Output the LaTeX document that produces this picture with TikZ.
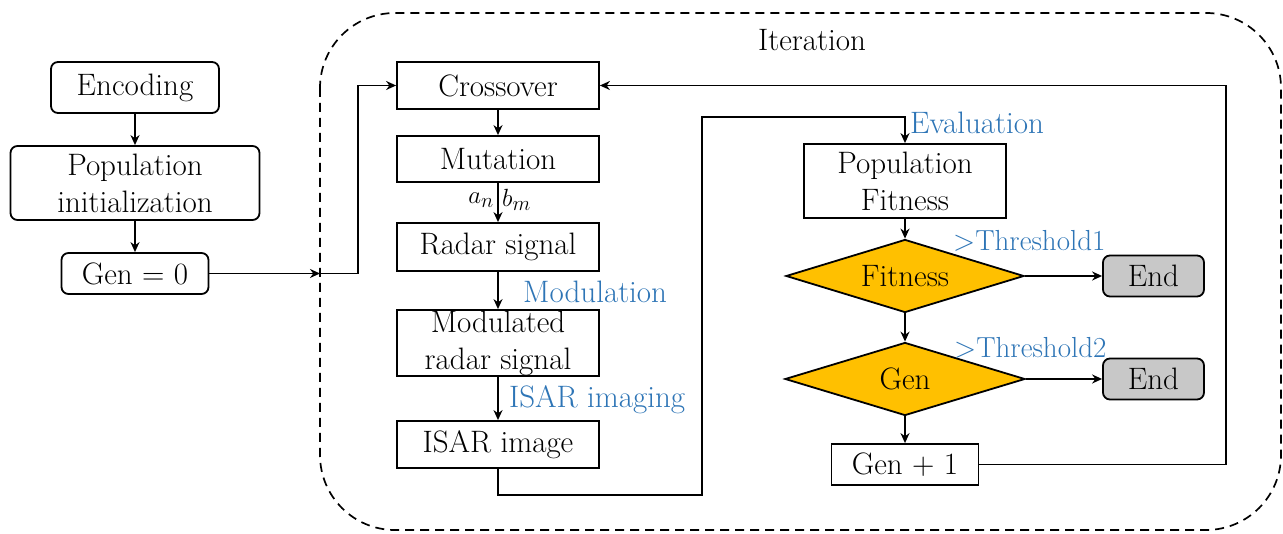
\documentclass[tikz,border=0pt]{standalone}
\usetikzlibrary{shapes.geometric,arrows.meta}
\definecolor{lblue}{HTML}{2E75B6}
\definecolor{dgold}{HTML}{FFC000}
\definecolor{egray}{HTML}{C8C8C8}
\begin{document}
\begin{tikzpicture}[x=1pt,y=-1pt,
  every node/.style={font=\fontsize{31}{37}\selectfont, inner sep=0pt},
  rbox/.style={draw, line width=1.8pt, rounded corners=7pt, align=center},
  sbox/.style={draw, line width=1.8pt, align=center},
  dia/.style={draw, line width=1.8pt, diamond, fill=dgold, aspect=3.27},
  endbox/.style={draw, line width=1.8pt, rounded corners=7pt, fill=egray, minimum width=101pt, minimum height=41pt},
  lab/.style={text=lblue},
  arr/.style={line width=1.8pt, -{Stealth[length=10pt,width=9pt]}}]
\useasboundingbox (0,0) rectangle (1283,534);
% iteration frame
\draw[line width=1.7pt, dash pattern=on 9pt off 6pt, rounded corners=75pt] (320,13) rectangle (1281,530);
\node (iter) at (812,40) {Iteration};
% left column
\node[rbox, minimum width=168pt, minimum height=51pt] (enc) at (135,87.5) {Encoding};
\node[rbox, minimum width=249pt, minimum height=74pt] (pop) at (135,183) {Population\\initialization};
\node[rbox, minimum width=147pt, minimum height=41pt] (gen0) at (135,273.5) {Gen = 0};
% middle column
\node[sbox, minimum width=202pt, minimum height=47pt] (cross) at (498,85.5) {Crossover};
\node[sbox, minimum width=202pt, minimum height=46pt] (mut) at (498,159) {Mutation};
\node[sbox, minimum width=202pt, minimum height=48pt] (radar) at (498,247) {Radar signal};
\node[sbox, minimum width=202pt, minimum height=66pt] (mod) at (498,343) {Modulated\\radar signal};
\node[sbox, minimum width=202pt, minimum height=47pt] (isar) at (498,444.5) {ISAR image};
% right column
\node[sbox, minimum width=202pt, minimum height=74pt] (pfit) at (905,181) {Population\\Fitness};
\node[dia, minimum width=238pt, minimum height=73pt] (fit) at (905,276) {Fitness};
\node[dia, minimum width=240pt, minimum height=73pt] (gend) at (905,379) {Gen};
\node[sbox, minimum width=147pt, minimum height=41pt] (gen1) at (905,464.5) {Gen + 1};
\node[endbox] (end1) at (1153.5,276) {End};
\node[endbox] (end2) at (1153.5,379) {End};
% labels
\node[anchor=east] (an) at (494,200) {$a_n$};
\node[anchor=west] (bm) at (502,200) {$b_m$};
\node[lab, anchor=west] (lmod) at (523,292) {Modulation};
\node[lab, anchor=west] (lisar) at (509,400) {ISAR imaging};
\node[lab, anchor=west] (leval) at (910,123) {Evaluation};
\node[lab, anchor=west, font=\fontsize{29}{35}\selectfont] (lth1) at (953,241) {>Threshold1};
\node[lab, anchor=west, font=\fontsize{29}{35}\selectfont] (lth2) at (954,348) {>Threshold2};
% coordinates
\coordinate (j0) at (320,273.5);
\coordinate (j1) at (358,273.5);
\coordinate (j2) at (498,495);
\coordinate (j3) at (702,495);
\coordinate (j4) at (702,117);
\coordinate (j5) at (1226,464.5);
\coordinate (j6) at (1226,85.5);
% connectors
\draw[arr] (enc) -- (pop);
\draw[arr] (pop) -- (gen0);
\draw[arr] (gen0) -- (j0);
\draw[arr] (j0) -- (j1) |- (cross.west);
\draw[arr] (cross) -- (mut);
\draw[arr] (mut) -- (radar);
\draw[arr] (radar) -- (mod);
\draw[arr] (mod) -- (isar);
\draw[arr] (isar.south) -- (j2) -- (j3) -- (j4) -| (pfit.north);
\draw[arr] (pfit) -- (fit);
\draw[arr] (fit) -- (gend);
\draw[arr] (gend) -- (gen1);
\draw[arr] (fit.east) -- (end1.west);
\draw[arr] (gend.east) -- (end2.west);
\draw[arr] (gen1.east) -- (j5) -- (j6) -- (cross.east);
\end{tikzpicture}
\end{document}
